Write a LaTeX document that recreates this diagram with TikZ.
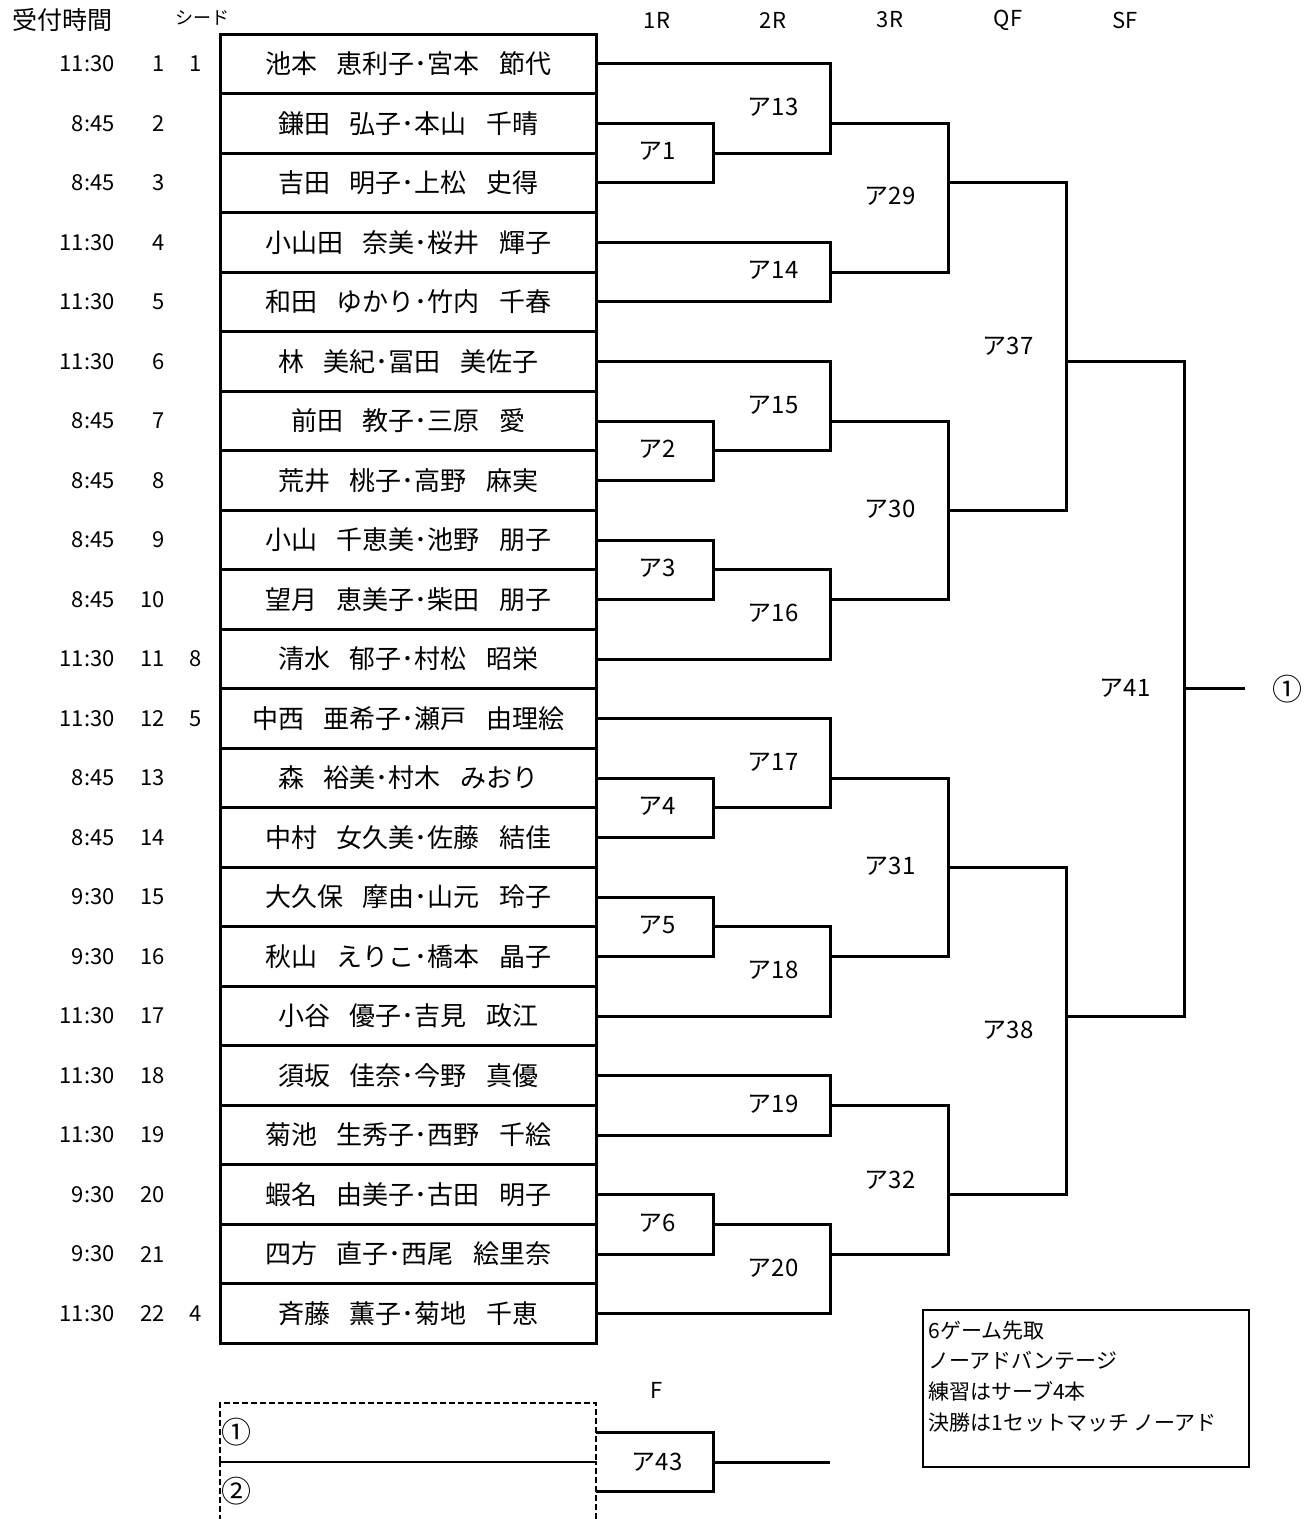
\documentclass[tikz,border=0pt]{standalone}
\usepackage{fontspec}
\setmainfont{Noto Sans CJK JP}
\newcommand\nmgap{\hspace{0.75em}}
\tikzset{
  every picture/.append style={font=\fontsize{11pt}{13pt}\selectfont},
  ply/.style={rectangle, draw, line width=1.5pt, minimum width=188pt, minimum height=29.75pt,
              inner sep=0pt, outer sep=0pt, font=\fontsize{13pt}{15pt}\selectfont},
  tim/.style={anchor=east, inner sep=0pt},
  num/.style={anchor=east, inner sep=0pt},
  sed/.style={inner sep=0pt},
  hdr/.style={inner sep=0pt},
  cir/.style={inner sep=0pt, font=\fontsize{15pt}{16pt}\selectfont},
  mch/.style={inner sep=0pt, font=\fontsize{12pt}{14pt}\selectfont},
  br/.style={line width=1.5pt},
  fbox/.style={rectangle, draw, dashed, dash pattern=on 3pt off 1.5pt, line width=1.4pt,
               minimum width=188pt, minimum height=29.5pt, inner sep=0.5pt, outer sep=0pt,
               text width=187pt, align=left, font=\fontsize{15pt}{16pt}\selectfont},
  memo/.style={rectangle, draw, line width=0.75pt, minimum width=163pt, minimum height=78.5pt,
               inner sep=0pt, outer sep=0pt},
  memotx/.style={inner sep=0pt, align=left, font=\fontsize{10.5pt}{15.4pt}\selectfont},
}
\begin{document}
\begin{tikzpicture}[x=0.5pt,y=-0.5pt]
\useasboundingbox (0,0) rectangle (1311,1519);
\clip (0,0) rectangle (1311,1519);

% ---------------- headers -------------------------------------------------------
\node[hdr, font=\fontsize{12.5pt}{14pt}\selectfont] (h0) at (62,20) {受付時間};
\node[hdr, font=\fontsize{9pt}{11pt}\selectfont] (h1) at (202,18) {シード};
\node[hdr] (r1) at (657,20) {1R};
\node[hdr] (r2) at (773,20) {2R};
\node[hdr] (r3) at (890,20) {3R};
\node[hdr] (r4) at (1008,20) {QF};
\node[hdr] (r5) at (1125,20) {SF};

% ---------------- players --------------------------------------------------------
\node[tim] (t1) at (115,64) {11:30}; \node[num] (n1) at (165,64) {1}; \node[sed] (s1) at (196,64) {1};
\node[ply] (p1) at (408,64) {池本\nmgap 恵利子･宮本\nmgap 節代};
\node[tim] (t2) at (115,123.5) {8:45}; \node[num] (n2) at (165,123.5) {2};
\node[ply] (p2) at (408,123.5) {鎌田\nmgap 弘子･本山\nmgap 千晴};
\node[tim] (t3) at (115,183) {8:45}; \node[num] (n3) at (165,183) {3};
\node[ply] (p3) at (408,183) {吉田\nmgap 明子･上松\nmgap 史得};
\node[tim] (t4) at (115,242.5) {11:30}; \node[num] (n4) at (165,242.5) {4};
\node[ply] (p4) at (408,242.5) {小山田\nmgap 奈美･桜井\nmgap 輝子};
\node[tim] (t5) at (115,302) {11:30}; \node[num] (n5) at (165,302) {5};
\node[ply] (p5) at (408,302) {和田\nmgap ゆかり･竹内\nmgap 千春};
\node[tim] (t6) at (115,361.5) {11:30}; \node[num] (n6) at (165,361.5) {6};
\node[ply] (p6) at (408,361.5) {林\nmgap 美紀･冨田\nmgap 美佐子};
\node[tim] (t7) at (115,421) {8:45}; \node[num] (n7) at (165,421) {7};
\node[ply] (p7) at (408,421) {前田\nmgap 教子･三原\nmgap 愛};
\node[tim] (t8) at (115,480.5) {8:45}; \node[num] (n8) at (165,480.5) {8};
\node[ply] (p8) at (408,480.5) {荒井\nmgap 桃子･高野\nmgap 麻実};
\node[tim] (t9) at (115,540) {8:45}; \node[num] (n9) at (165,540) {9};
\node[ply] (p9) at (408,540) {小山\nmgap 千恵美･池野\nmgap 朋子};
\node[tim] (t10) at (115,599.5) {8:45}; \node[num] (n10) at (165,599.5) {10};
\node[ply] (p10) at (408,599.5) {望月\nmgap 恵美子･柴田\nmgap 朋子};
\node[tim] (t11) at (115,659) {11:30}; \node[num] (n11) at (165,659) {11}; \node[sed] (s11) at (196,659) {8};
\node[ply] (p11) at (408,659) {清水\nmgap 郁子･村松\nmgap 昭栄};
\node[tim] (t12) at (115,718.5) {11:30}; \node[num] (n12) at (165,718.5) {12}; \node[sed] (s12) at (196,718.5) {5};
\node[ply] (p12) at (408,718.5) {中西\nmgap 亜希子･瀬戸\nmgap 由理絵};
\node[tim] (t13) at (115,778) {8:45}; \node[num] (n13) at (165,778) {13};
\node[ply] (p13) at (408,778) {森\nmgap 裕美･村木\nmgap みおり};
\node[tim] (t14) at (115,837.5) {8:45}; \node[num] (n14) at (165,837.5) {14};
\node[ply] (p14) at (408,837.5) {中村\nmgap 女久美･佐藤\nmgap 結佳};
\node[tim] (t15) at (115,897) {9:30}; \node[num] (n15) at (165,897) {15};
\node[ply] (p15) at (408,897) {大久保\nmgap 摩由･山元\nmgap 玲子};
\node[tim] (t16) at (115,956.5) {9:30}; \node[num] (n16) at (165,956.5) {16};
\node[ply] (p16) at (408,956.5) {秋山\nmgap えりこ･橋本\nmgap 晶子};
\node[tim] (t17) at (115,1016) {11:30}; \node[num] (n17) at (165,1016) {17};
\node[ply] (p17) at (408,1016) {小谷\nmgap 優子･吉見\nmgap 政江};
\node[tim] (t18) at (115,1075.5) {11:30}; \node[num] (n18) at (165,1075.5) {18};
\node[ply] (p18) at (408,1075.5) {須坂\nmgap 佳奈･今野\nmgap 真優};
\node[tim] (t19) at (115,1135) {11:30}; \node[num] (n19) at (165,1135) {19};
\node[ply] (p19) at (408,1135) {菊池\nmgap 生秀子･西野\nmgap 千絵};
\node[tim] (t20) at (115,1194.5) {9:30}; \node[num] (n20) at (165,1194.5) {20};
\node[ply] (p20) at (408,1194.5) {蝦名\nmgap 由美子･古田\nmgap 明子};
\node[tim] (t21) at (115,1254) {9:30}; \node[num] (n21) at (165,1254) {21};
\node[ply] (p21) at (408,1254) {四方\nmgap 直子･西尾\nmgap 絵里奈};
\node[tim] (t22) at (115,1313.5) {11:30}; \node[num] (n22) at (165,1313.5) {22}; \node[sed] (s22) at (196,1313.5) {4};
\node[ply] (p22) at (408,1313.5) {斉藤\nmgap 薫子･菊地\nmgap 千恵};

% ---------------- match points ---------------------------------------------------
\coordinate (a1) at (713,153.25);   \coordinate (a13) at (830,123.5);
\coordinate (a14) at (830,272.25);  \coordinate (a29) at (948,183);
\coordinate (a2) at (713,450.75);   \coordinate (a15) at (830,421);
\coordinate (a3) at (713,569.75);   \coordinate (a16) at (830,599.5);
\coordinate (a30) at (948,510.25);  \coordinate (a37) at (1066,361.5);
\coordinate (a4) at (713,807.75);   \coordinate (a17) at (830,778);
\coordinate (a5) at (713,926.75);   \coordinate (a18) at (830,956.5);
\coordinate (a31) at (948,867.25);  \coordinate (a19) at (830,1105.25);
\coordinate (a6) at (713,1224.25);  \coordinate (a20) at (830,1254);
\coordinate (a32) at (948,1194.5);  \coordinate (a38) at (1066,1016);
\coordinate (a41) at (1184,688.75); \coordinate (win) at (1245,688.75);

% ---------------- brackets, upper half -------------------------------------------
\draw[br] (p2.east) -| (a1);  \draw[br] (p3.east) -| (a1);
\draw[br] (p1.east) -| (a13); \draw[br] (a1) -| (a13);
\draw[br] (p4.east) -| (a14); \draw[br] (p5.east) -| (a14);
\draw[br] (a13) -| (a29);     \draw[br] (a14) -| (a29);
\draw[br] (p7.east) -| (a2);  \draw[br] (p8.east) -| (a2);
\draw[br] (p6.east) -| (a15); \draw[br] (a2) -| (a15);
\draw[br] (p9.east) -| (a3);  \draw[br] (p10.east) -| (a3);
\draw[br] (a3) -| (a16);      \draw[br] (p11.east) -| (a16);
\draw[br] (a15) -| (a30);     \draw[br] (a16) -| (a30);
\draw[br] (a29) -| (a37);     \draw[br] (a30) -| (a37);

% ---------------- brackets, lower half -------------------------------------------
\draw[br] (p13.east) -| (a4); \draw[br] (p14.east) -| (a4);
\draw[br] (p12.east) -| (a17); \draw[br] (a4) -| (a17);
\draw[br] (p15.east) -| (a5); \draw[br] (p16.east) -| (a5);
\draw[br] (a5) -| (a18);      \draw[br] (p17.east) -| (a18);
\draw[br] (a17) -| (a31);     \draw[br] (a18) -| (a31);
\draw[br] (p18.east) -| (a19); \draw[br] (p19.east) -| (a19);
\draw[br] (p20.east) -| (a6); \draw[br] (p21.east) -| (a6);
\draw[br] (a6) -| (a20);      \draw[br] (p22.east) -| (a20);
\draw[br] (a19) -| (a32);     \draw[br] (a20) -| (a32);
\draw[br] (a31) -| (a38);     \draw[br] (a32) -| (a38);
\draw[br] (a37) -| (a41);     \draw[br] (a38) -| (a41);
\draw[br] (a41) -- (win);
\node[cir] (w1) at (1287,688.75) {①};

% ---------------- match labels ---------------------------------------------------
\node[mch] (m1) at (657,151) {ア1};     \node[mch] (m13) at (773,107) {ア13};
\node[mch] (m14) at (773,270) {ア14};   \node[mch] (m29) at (890,196) {ア29};
\node[mch] (m2) at (657,449) {ア2};     \node[mch] (m15) at (773,405) {ア15};
\node[mch] (m3) at (657,568) {ア3};     \node[mch] (m16) at (773,613) {ア16};
\node[mch] (m30) at (890,509) {ア30};   \node[mch] (m37) at (1008,346) {ア37};
\node[mch] (m4) at (657,806) {ア4};     \node[mch] (m17) at (773,762) {ア17};
\node[mch] (m5) at (657,925) {ア5};     \node[mch] (m18) at (773,970) {ア18};
\node[mch] (m31) at (890,866) {ア31};   \node[mch] (m19) at (773,1104) {ア19};
\node[mch] (m6) at (657,1223) {ア6};    \node[mch] (m20) at (773,1268) {ア20};
\node[mch] (m32) at (890,1180) {ア32};  \node[mch] (m38) at (1008,1030) {ア38};
\node[mch] (m41) at (1125,688) {ア41};

% ---------------- final ----------------------------------------------------------
\node[hdr] (hf) at (657,1390) {F};
\node[fbox] (f1) at (408,1432.5) {①};
\node[fbox] (f2) at (408,1491.5) {②};
\coordinate (a43) at (713,1462);
\coordinate (champ) at (830,1462);
\draw[br] (f1.east) -| (a43); \draw[br] (f2.east) -| (a43);
\draw[br] (a43) -- (champ);
\node[mch] (m43) at (657,1462) {ア43};

% ---------------- memo -----------------------------------------------------------
\node[memo, anchor=north west] (memo) at (923,1310) {};
\node[memotx, anchor=north west] (memotx) at (928,1320)
  {6ゲーム先取\\ノーアドバンテージ\\練習はサーブ4本\\決勝は1セットマッチ ノーアド};

\end{tikzpicture}
\end{document}
